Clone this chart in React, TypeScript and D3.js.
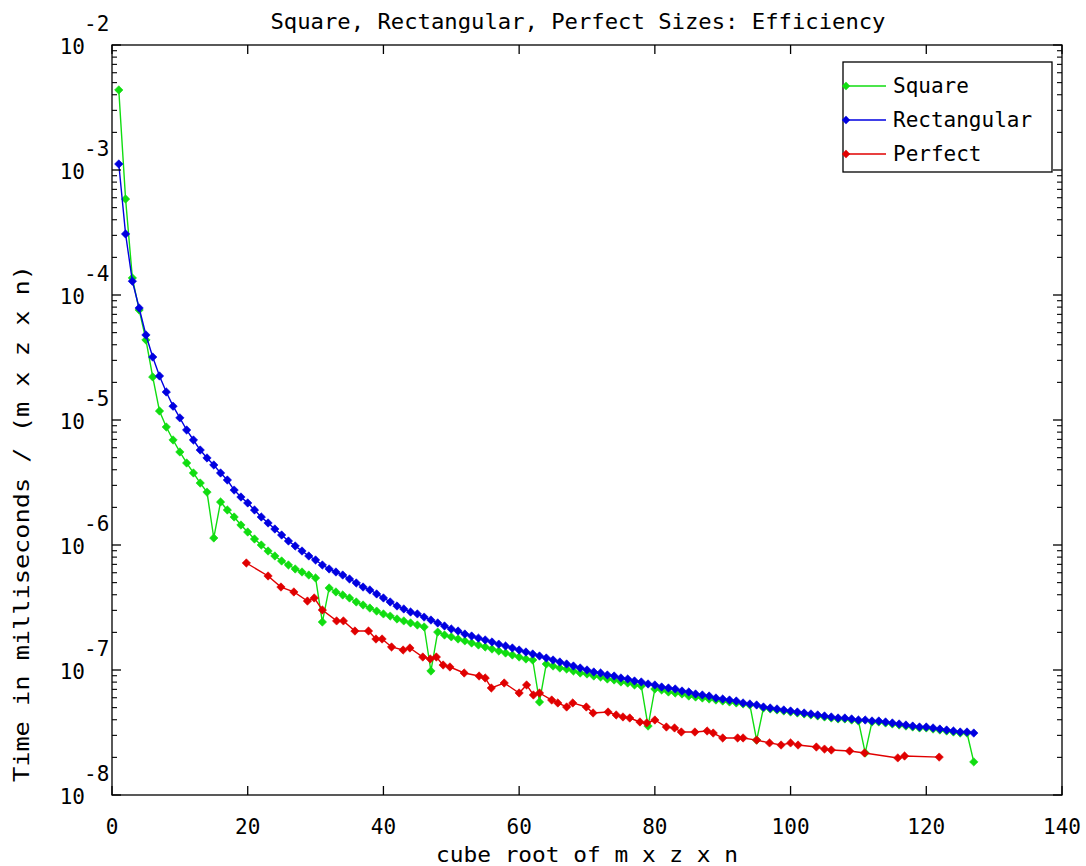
import React from "react";
import * as d3 from "d3";

const squareY = [
  4.37e-3, 5.86e-4, 1.37e-4, 7.59e-5, 4.37e-5, 2.21e-5, 1.18e-5, 8.79e-6, 6.92e-6, 5.55e-6,
  4.53e-6, 3.77e-6, 3.13e-6, 2.65e-6, 1.138e-6, 2.21e-6, 1.905e-6, 1.675e-6, 1.445e-6, 1.27e-6,
  1.117e-6, 1.0e-6, 8.95e-7, 8.17e-7, 7.45e-7, 6.92e-7, 6.43e-7, 6.08e-7, 5.75e-7, 5.45e-7,
  2.42e-7, 4.53e-7, 4.21e-7, 3.98e-7, 3.77e-7, 3.5e-7, 3.31e-7, 3.13e-7, 2.96e-7, 2.81e-7,
  2.7e-7, 2.56e-7, 2.47e-7, 2.38e-7, 2.29e-7, 2.21e-7, 9.82e-8, 2.01e-7, 1.905e-7, 1.84e-7,
  1.77e-7, 1.71e-7, 1.644e-7, 1.585e-7, 1.528e-7, 1.472e-7, 1.419e-7, 1.368e-7, 1.318e-7, 1.27e-7,
  1.225e-7, 1.202e-7, 5.55e-8, 1.117e-7, 1.076e-7, 1.037e-7, 1.018e-7, 9.82e-8, 9.46e-8, 9.29e-8,
  8.95e-8, 8.79e-8, 8.47e-8, 8.32e-8, 8.02e-8, 7.87e-8, 7.59e-8, 7.45e-8, 3.56e-8, 7.05e-8,
  6.92e-8, 6.67e-8, 6.55e-8, 6.43e-8, 6.19e-8, 6.08e-8, 5.97e-8, 5.86e-8, 5.75e-8, 5.65e-8,
  5.55e-8, 5.45e-8, 5.35e-8, 5.25e-8, 2.75e-8, 4.97e-8, 4.88e-8, 4.79e-8, 4.7e-8, 4.61e-8,
  4.53e-8, 4.45e-8, 4.37e-8, 4.29e-8, 4.21e-8, 4.13e-8, 4.06e-8, 4.06e-8, 3.98e-8, 3.91e-8,
  2.17e-8, 3.84e-8, 3.84e-8, 3.77e-8, 3.7e-8, 3.63e-8, 3.56e-8, 3.5e-8, 3.44e-8, 3.44e-8,
  3.37e-8, 3.31e-8, 3.25e-8, 3.19e-8, 3.13e-8, 3.13e-8, 1.84e-8,
];

const rectangularY = [
  1.117e-3, 3.08e-4, 1.29e-4, 7.87e-5, 4.79e-5, 3.19e-5, 2.25e-5, 1.675e-5, 1.29e-5, 1.04e-5,
  8.32e-6, 6.92e-6, 5.75e-6, 4.97e-6, 4.37e-6, 3.77e-6, 3.31e-6, 2.75e-6, 2.42e-6, 2.17e-6,
  1.905e-6, 1.675e-6, 1.5e-6, 1.343e-6, 1.202e-6, 1.076e-6, 9.82e-7, 8.95e-7, 8.17e-7, 7.59e-7,
  6.92e-7, 6.43e-7, 6.08e-7, 5.75e-7, 5.35e-7, 4.97e-7, 4.61e-7, 4.37e-7, 4.06e-7, 3.77e-7,
  3.5e-7, 3.25e-7, 3.08e-7, 2.91e-7, 2.81e-7, 2.65e-7, 2.51e-7, 2.38e-7, 2.25e-7, 2.13e-7,
  2.05e-7, 1.94e-7, 1.87e-7, 1.8e-7, 1.74e-7, 1.675e-7, 1.61e-7, 1.556e-7, 1.5e-7, 1.445e-7,
  1.393e-7, 1.343e-7, 1.294e-7, 1.247e-7, 1.202e-7, 1.159e-7, 1.117e-7, 1.076e-7, 1.037e-7, 1.0e-7,
  9.64e-8, 9.46e-8, 9.12e-8, 8.95e-8, 8.63e-8, 8.47e-8, 8.17e-8, 8.02e-8, 7.73e-8, 7.59e-8,
  7.31e-8, 7.18e-8, 7.05e-8, 6.79e-8, 6.67e-8, 6.43e-8, 6.31e-8, 6.19e-8, 5.97e-8, 5.86e-8,
  5.75e-8, 5.65e-8, 5.45e-8, 5.35e-8, 5.25e-8, 5.06e-8, 4.97e-8, 4.88e-8, 4.79e-8, 4.7e-8,
  4.61e-8, 4.53e-8, 4.45e-8, 4.37e-8, 4.29e-8, 4.21e-8, 4.13e-8, 4.13e-8, 4.06e-8, 3.98e-8,
  3.98e-8, 3.91e-8, 3.91e-8, 3.84e-8, 3.77e-8, 3.7e-8, 3.63e-8, 3.56e-8, 3.5e-8, 3.5e-8,
  3.44e-8, 3.37e-8, 3.31e-8, 3.25e-8, 3.19e-8, 3.19e-8, 3.13e-8,
];

const perfectX = [
  19.8, 23.0, 24.9, 26.8, 28.8, 29.8, 31.0, 33.1, 34.1, 35.8,
  37.8, 38.9, 39.8, 41.2, 42.9, 43.9, 45.8, 46.9, 47.8, 48.8,
  49.8, 51.9, 54.1, 55.0, 55.9, 57.8, 60.0, 61.1, 62.1, 63.0,
  64.8, 65.7, 67.0, 67.9, 69.9, 70.9, 73.1, 74.3, 75.3, 76.3,
  77.8, 78.8, 80.0, 81.7, 82.9, 83.9, 85.9, 87.7, 88.6, 90.0,
  92.2, 93.0, 95.0, 96.9, 98.6, 100.0, 101.1, 103.8, 105.0, 106.0,
  108.7, 110.9, 115.8, 116.8, 121.9,
];

const perfectY = [
  7.18e-7, 5.65e-7, 4.61e-7, 4.21e-7, 3.56e-7, 3.77e-7, 3.02e-7, 2.47e-7, 2.47e-7, 2.05e-7,
  2.05e-7, 1.77e-7, 1.77e-7, 1.528e-7, 1.445e-7, 1.5e-7, 1.27e-7, 1.225e-7, 1.27e-7, 1.096e-7,
  1.057e-7, 9.46e-8, 8.95e-8, 8.63e-8, 7.18e-8, 7.87e-8, 6.55e-8, 7.59e-8, 6.31e-8, 6.55e-8,
  5.75e-8, 5.45e-8, 5.06e-8, 5.45e-8, 5.06e-8, 4.53e-8, 4.61e-8, 4.37e-8, 4.21e-8, 4.13e-8,
  3.84e-8, 3.77e-8, 3.98e-8, 3.5e-8, 3.44e-8, 3.19e-8, 3.19e-8, 3.25e-8, 3.13e-8, 2.86e-8,
  2.86e-8, 2.86e-8, 2.75e-8, 2.61e-8, 2.51e-8, 2.61e-8, 2.51e-8, 2.42e-8, 2.33e-8, 2.29e-8,
  2.25e-8, 2.17e-8, 1.98e-8, 2.05e-8, 2.01e-8,
];

const xTicks = [0, 20, 40, 60, 80, 100, 120, 140];
const yDecades = [-8, -7, -6, -5, -4, -3, -2];
const seriesNames = ["Square", "Rectangular", "Perfect"];
const seriesColors = ["#10dd10", "#0000e0", "#e00000"];

const W = 1086;
const H = 866;
const L = 112;
const R = 1062;
const T = 45;
const B = 795;
const FONT = "'DejaVu Sans Mono', 'Liberation Mono', monospace";

const x = d3.scaleLinear().domain([0, 140]).range([L, R]);
const y = d3.scaleLog().domain([1e-8, 1e-2]).range([B, T]);

const diamond = "M0,-4.2L4.2,0L0,4.2L-4.2,0Z";

type Pt = [number, number];

function Series({ pts, color }: { pts: Pt[]; color: string }) {
  const line = d3
    .line<Pt>()
    .x((d) => x(d[0]))
    .y((d) => y(d[1]));
  return (
    <g>
      <path d={line(pts) || ""} fill="none" stroke={color} strokeWidth={1.4} />
      {pts.map((d, i) => (
        <path
          key={i}
          d={diamond}
          transform={`translate(${x(d[0])},${y(d[1])})`}
          fill={color}
          stroke={color}
          strokeWidth={0.6}
        />
      ))}
    </g>
  );
}

export default function App() {
  const square: Pt[] = squareY.map((v, i) => [i + 1, v]);
  const rect: Pt[] = rectangularY.map((v, i) => [i + 1, v]);
  const perfect: Pt[] = perfectX.map((v, i) => [v, perfectY[i]]);
  const all = [square, rect, perfect];

  const minor: number[] = [];
  for (let e = -8; e < -2; e++) {
    for (let m = 2; m <= 9; m++) minor.push(m * Math.pow(10, e));
  }

  const legendX = 843;
  const legendY = 62;
  const legendW = 209;
  const legendH = 110;
  const rowYs = [86, 120, 154];

  return (
    <svg
      width={W}
      height={H}
      viewBox={`0 0 ${W} ${H}`}
      style={{ position: "absolute", left: 0, top: 0, background: "#fff" }}
      fontFamily={FONT}
    >
      <rect x={0} y={0} width={W} height={H} fill="#fff" />
      {all.map((pts, i) => (
        <Series key={i} pts={pts} color={seriesColors[i]} />
      ))}

      <rect x={L} y={T} width={R - L} height={B - T} fill="none" stroke="#000" strokeWidth={1.3} />

      {xTicks.map((t) => (
        <g key={`xt${t}`}>
          <line x1={x(t)} x2={x(t)} y1={B} y2={B - 9} stroke="#000" strokeWidth={1.3} />
          <line x1={x(t)} x2={x(t)} y1={T} y2={T + 9} stroke="#000" strokeWidth={1.3} />
          <text x={x(t)} y={B + 39} textAnchor="middle" fontSize={21} fill="#000">
            {t}
          </text>
        </g>
      ))}

      {yDecades.map((e) => {
        const v = Math.pow(10, e);
        return (
          <g key={`yd${e}`}>
            <line x1={L} x2={L + 9} y1={y(v)} y2={y(v)} stroke="#000" strokeWidth={1.3} />
            <line x1={R} x2={R - 9} y1={y(v)} y2={y(v)} stroke="#000" strokeWidth={1.3} />
            <text x={85} y={y(v) + 9} textAnchor="end" fontSize={21} fill="#000">
              10
            </text>
            <text x={84} y={y(v) - 14} textAnchor="start" fontSize={21} fill="#000">
              {`${e}`}
            </text>
          </g>
        );
      })}
      {minor.map((v, i) => (
        <g key={`ym${i}`}>
          <line x1={L} x2={L + 5} y1={y(v)} y2={y(v)} stroke="#000" strokeWidth={1.1} />
          <line x1={R} x2={R - 5} y1={y(v)} y2={y(v)} stroke="#000" strokeWidth={1.1} />
        </g>
      ))}

      <text x={578} y={29} textAnchor="middle" fontSize={21} fill="#000" textLength={615} lengthAdjust="spacingAndGlyphs">
        Square, Rectangular, Perfect Sizes: Efficiency
      </text>
      <text x={587} y={862} textAnchor="middle" fontSize={21} fill="#000" textLength={302} lengthAdjust="spacingAndGlyphs">
        cube root of m x z x n
      </text>
      <text
        transform={`translate(29,${(265 + 782) / 2}) rotate(-90)`}
        textAnchor="middle"
        fontSize={21}
        fill="#000"
        textLength={517}
        lengthAdjust="spacingAndGlyphs"
      >
        Time in milliseconds / (m x z x n)
      </text>

      <rect x={legendX} y={legendY} width={legendW} height={legendH} fill="#fff" stroke="#000" strokeWidth={1.3} />
      {seriesNames.map((name, i) => (
        <g key={name}>
          <line x1={legendX + 3} x2={legendX + 43} y1={rowYs[i]} y2={rowYs[i]} stroke={seriesColors[i]} strokeWidth={1.4} />
          <path d={diamond} transform={`translate(${legendX + 3},${rowYs[i]})`} fill={seriesColors[i]} />
          <text x={legendX + 50} y={rowYs[i] + 7} fontSize={21} fill="#000">
            {name}
          </text>
        </g>
      ))}
    </svg>
  );
}
